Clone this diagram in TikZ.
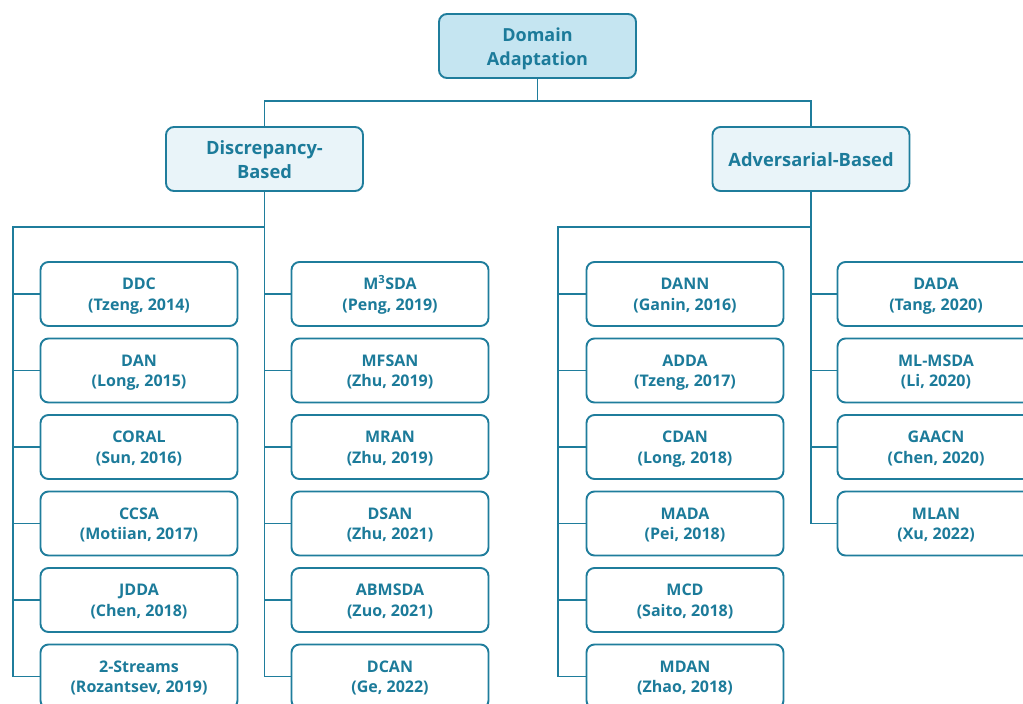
\documentclass[tikz,border=0pt]{standalone}
\usepackage{fontspec}
\setmainfont{Open Sans}
\definecolor{edge}{HTML}{1F7D9C}
\definecolor{ink}{HTML}{1C7B9A}
\definecolor{rootfill}{HTML}{C5E5F1}
\definecolor{midfill}{HTML}{E9F4F9}
\begin{document}
\begin{tikzpicture}[x=1pt,y=-1pt,
  box/.style={draw=edge, line width=1.9pt, rounded corners=8pt, text=ink,
    align=center, inner sep=0pt, minimum width=197pt, minimum height=64pt},
  rootbox/.style={box, fill=rootfill, font=\bfseries\fontsize{18}{24}\selectfont,
    text height=40pt, text depth=1.2pt},
  midbox/.style={box, fill=midfill, font=\bfseries\fontsize{18.3}{24}\selectfont,
    text height=40pt, text depth=1pt},
  oneline/.style={text height=15pt, text depth=0pt},
  leaf/.style={box, fill=white, font=\bfseries\fontsize{16}{20.5}\selectfont,
    text height=36pt, text depth=3.6pt},
  link/.style={draw=edge, line width=1.9pt}]
\clip (0,0) rectangle (1023,704);
\fill[white] (0,0) rectangle (1023,704);

% top levels
\node[rootbox] (root) at (537.5,46) {Domain\\Adaptation};
\node[midbox] (disc) at (264.5,159) {Discrepancy-\\Based};
\node[midbox, oneline] (adv) at (811,159) {Adversarial-Based};

% discrepancy-based methods, first column
\node[leaf] (ddc)  at (139,294)   {DDC\\(Tzeng, 2014)};
\node[leaf] (dan)  at (139,370.5) {DAN\\(Long, 2015)};
\node[leaf] (coral) at (139,447)  {CORAL\\(Sun, 2016)};
\node[leaf] (ccsa) at (139,523.5) {CCSA\\(Motiian, 2017)};
\node[leaf] (jdda) at (139,600)   {JDDA\\(Chen, 2018)};
\node[leaf] (twos) at (139,676.5) {2-Streams\\(Rozantsev, 2019)};

% discrepancy-based methods, second column
\node[leaf] (msda)  at (390,294)   {M\textsuperscript{3}SDA\\(Peng, 2019)};
\node[leaf] (mfsan) at (390,370.5) {MFSAN\\(Zhu, 2019)};
\node[leaf] (mran)  at (390,447)   {MRAN\\(Zhu, 2019)};
\node[leaf] (dsan)  at (390,523.5) {DSAN\\(Zhu, 2021)};
\node[leaf] (abm)   at (390,600)   {ABMSDA\\(Zuo, 2021)};
\node[leaf] (dcan)  at (390,676.5) {DCAN\\(Ge, 2022)};

% adversarial-based methods, first column
\node[leaf] (dann) at (685,294)   {DANN\\(Ganin, 2016)};
\node[leaf] (adda) at (685,370.5) {ADDA\\(Tzeng, 2017)};
\node[leaf] (cdan) at (685,447)   {CDAN\\(Long, 2018)};
\node[leaf] (mada) at (685,523.5) {MADA\\(Pei, 2018)};
\node[leaf] (mcd)  at (685,600)   {MCD\\(Saito, 2018)};
\node[leaf] (mdan) at (685,676.5) {MDAN\\(Zhao, 2018)};

% adversarial-based methods, second column
\node[leaf] (dada)  at (936,294)   {DADA\\(Tang, 2020)};
\node[leaf] (mlmsda) at (936,370.5) {ML-MSDA\\(Li, 2020)};
\node[leaf] (gaacn) at (936,447)   {GAACN\\(Chen, 2020)};
\node[leaf] (mlan)  at (936,523.5) {MLAN\\(Xu, 2022)};

% junction points
\coordinate (jroot) at (537.5,101);
\coordinate (jdisc) at (264.5,227);
\coordinate (ltrunk) at (13,227);
\coordinate (jadv) at (811,227);
\coordinate (rtrunk) at (558,227);

% root to categories
\draw[link] (root.south) -- (jroot);
\draw[link] (disc.north) |- (jroot) -| (adv.north);

% discrepancy-based tree
\draw[link] (disc.south) |- (dcan.west);
\foreach \n in {msda,mfsan,mran,dsan,abm}
  \draw[link] (\n.west) -- (\n.west -| disc.south);
\draw[link] (jdisc) -- (ltrunk) |- (twos.west);
\foreach \n in {ddc,dan,coral,ccsa,jdda}
  \draw[link] (\n.west) -- (\n.west -| ltrunk);

% adversarial-based tree
\draw[link] (adv.south) |- (mlan.west);
\foreach \n in {dada,mlmsda,gaacn}
  \draw[link] (\n.west) -- (\n.west -| adv.south);
\draw[link] (jadv) -- (rtrunk) |- (mdan.west);
\foreach \n in {dann,adda,cdan,mada,mcd}
  \draw[link] (\n.west) -- (\n.west -| rtrunk);
\end{tikzpicture}
\end{document}
